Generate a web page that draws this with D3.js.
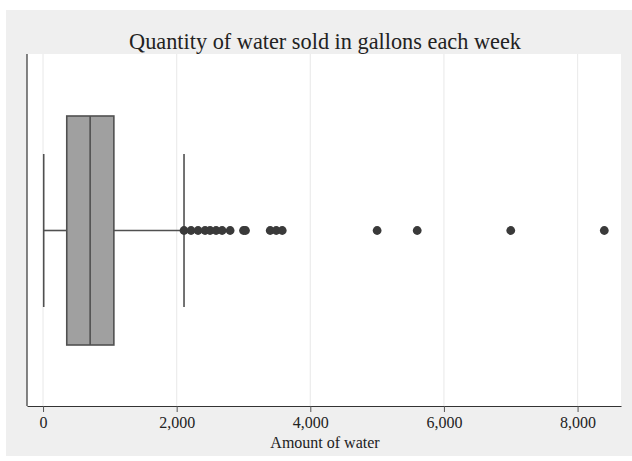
<!DOCTYPE html>
<html>
<head>
<meta charset="utf-8">
<script src="https://cdn.jsdelivr.net/npm/d3@7"></script>
<style>
  html, body { margin: 0; padding: 0; background: #ffffff; }
  svg { display: block; }
</style>
</head>
<body>
<script>
// ---- data ----
const chartTitle = "Quantity of water sold in gallons each week";
const xAxisTitle = "Amount of water";
const xTicks = [0, 2000, 4000, 6000, 8000];
// box summary (gallons)
const boxStats = { lowerWhisker: 10, q1: 355, median: 705, q3: 1060, upperWhisker: 2110 };
// outside values (gallons)
const outliers = [2110, 2215, 2320, 2425, 2500, 2590, 2680, 2800, 3000, 3030, 3400, 3490, 3580, 5000, 5600, 7000, 8400];

// ---- layout ----
const W = 632, H = 461;
const plot = { left: 27, right: 621, top: 54, bottom: 406 };

const svg = d3.select("body").append("svg").attr("width", W).attr("height", H);

// outer grey panel
svg.append("rect").attr("x", 6).attr("y", 10).attr("width", W - 6).attr("height", 446)
  .attr("fill", "#efefef");
// plot area
svg.append("rect").attr("x", plot.left).attr("y", plot.top)
  .attr("width", plot.right - plot.left).attr("height", plot.bottom - plot.top)
  .attr("fill", "#ffffff");

const x = d3.scaleLinear().domain([-240, 8650]).range([plot.left, plot.right]);
const y = d3.scaleLinear().domain([0, 1]).range([plot.bottom, plot.top]);
const yc = y(0.5) + 0.5;

// grid lines
svg.append("g").selectAll("line").data(xTicks).join("line")
  .attr("x1", d => x(d)).attr("x2", d => x(d))
  .attr("y1", plot.top).attr("y2", plot.bottom)
  .attr("stroke", "#ececec").attr("stroke-width", 1.2);

// x axis
const xAxis = d3.axisBottom(x).tickValues(xTicks).tickFormat(d3.format(",")).tickSize(6).tickSizeOuter(0);
const gx = svg.append("g").attr("transform", `translate(0,${plot.bottom})`).call(xAxis);
gx.select(".domain").attr("stroke", "#333").attr("stroke-width", 1.2);
gx.selectAll(".tick line").attr("stroke", "#555").attr("stroke-width", 1);
gx.selectAll(".tick text").attr("font-family", "'Liberation Serif', 'Times New Roman', serif")
  .attr("font-size", 16).attr("fill", "#222").attr("dy", "0.95em").attr("y", 7);

// y axis line
svg.append("line").attr("x1", plot.left).attr("x2", plot.left)
  .attr("y1", plot.top).attr("y2", plot.bottom)
  .attr("stroke", "#333").attr("stroke-width", 1.2);

// box plot
const boxHalf = 114.5, capHalf = 76.5;
const lineColor = "#505050";
const g = svg.append("g");
// whisker lines
g.append("line").attr("x1", x(boxStats.lowerWhisker)).attr("x2", x(boxStats.q1))
  .attr("y1", yc).attr("y2", yc).attr("stroke", lineColor).attr("stroke-width", 1.6);
g.append("line").attr("x1", x(boxStats.q3)).attr("x2", x(boxStats.upperWhisker))
  .attr("y1", yc).attr("y2", yc).attr("stroke", lineColor).attr("stroke-width", 1.6);
// caps
[boxStats.lowerWhisker, boxStats.upperWhisker].forEach(v => {
  g.append("line").attr("x1", x(v)).attr("x2", x(v))
    .attr("y1", yc - capHalf).attr("y2", yc + capHalf)
    .attr("stroke", lineColor).attr("stroke-width", 1.6);
});
// box
g.append("rect").attr("x", x(boxStats.q1)).attr("width", x(boxStats.q3) - x(boxStats.q1))
  .attr("y", yc - boxHalf).attr("height", 2 * boxHalf)
  .attr("fill", "#a0a0a0").attr("stroke", lineColor).attr("stroke-width", 1.6);
g.append("line").attr("x1", x(boxStats.median)).attr("x2", x(boxStats.median))
  .attr("y1", yc - boxHalf).attr("y2", yc + boxHalf)
  .attr("stroke", lineColor).attr("stroke-width", 1.6);

// outliers
g.selectAll("circle").data(outliers).join("circle")
  .attr("cx", d => x(d)).attr("cy", yc).attr("r", 4.4)
  .attr("fill", "#3a3a3a");

// title
svg.append("text").attr("x", 325).attr("y", 49).attr("text-anchor", "middle")
  .attr("font-family", "'Liberation Serif', 'Times New Roman', serif")
  .attr("font-size", 22.3).attr("fill", "#222").text(chartTitle);

// x axis title
svg.append("text").attr("x", 325).attr("y", 448).attr("text-anchor", "middle")
  .attr("font-family", "'Liberation Serif', 'Times New Roman', serif")
  .attr("font-size", 16).attr("fill", "#222").text(xAxisTitle);
</script>
</body>
</html>
